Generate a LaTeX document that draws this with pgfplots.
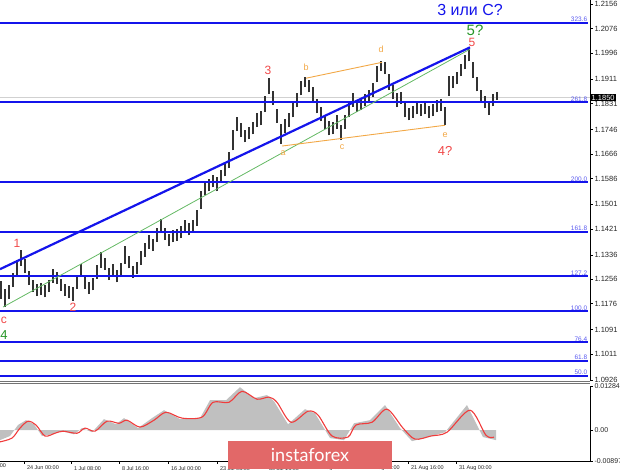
\documentclass[border=0pt]{standalone}
\usepackage{fontspec}
\setmainfont{Liberation Sans}
\newfontfamily\latofont{Lato}
\usepackage{pgfplots}
\pgfplotsset{compat=1.18}
\usepackage{pgfplotstable}
\definecolor{fibblue}{RGB}{20,20,235}
\definecolor{fibtxt}{RGB}{90,90,240}
\definecolor{wred}{RGB}{240,72,72}
\definecolor{wgreen}{RGB}{40,150,40}
\definecolor{worange}{RGB}{242,168,70}
\definecolor{lgreen}{RGB}{100,185,100}
\definecolor{barc}{RGB}{50,50,50}
\definecolor{logo}{RGB}{226,104,104}
\definecolor{histc}{RGB}{192,192,192}
\definecolor{sigred}{RGB}{240,60,60}
\tikzset{
  fiblab/.style={anchor=south east, inner sep=0.6pt, text=fibtxt, font=\fontsize{6.5}{7}\selectfont},
  fib/.style={fibblue, line width=2pt},
}

\pgfplotstableread{
x h l
1 1.1250 1.1192
5 1.1224 1.1166
9 1.1237 1.1191
13 1.1276 1.1230
17 1.1319 1.1267
21 1.1351 1.1299
25 1.1322 1.1276
29 1.1283 1.1237
33 1.1254 1.1214
37 1.1241 1.1201
41 1.1244 1.1204
45 1.1237 1.1197
49 1.1254 1.1214
53 1.1289 1.1243
57 1.1280 1.1240
61 1.1257 1.1217
65 1.1241 1.1201
69 1.1234 1.1194
73 1.1231 1.1185
77 1.1270 1.1224
81 1.1306 1.1266
85 1.1264 1.1224
89 1.1247 1.1207
93 1.1260 1.1220
97 1.1303 1.1257
101 1.1345 1.1293
105 1.1326 1.1286
109 1.1293 1.1253
113 1.1306 1.1266
117 1.1286 1.1246
121 1.1309 1.1263
125 1.1364 1.1306
129 1.1332 1.1292
133 1.1300 1.1260
137 1.1313 1.1273
141 1.1348 1.1302
145 1.1375 1.1329
149 1.1401 1.1355
153 1.1388 1.1348
157 1.1424 1.1378
161 1.1453 1.1407
165 1.1424 1.1384
169 1.1404 1.1364
173 1.1417 1.1377
177 1.1421 1.1381
181 1.1430 1.1390
185 1.1450 1.1410
189 1.1440 1.1400
193 1.1450 1.1410
197 1.1482 1.1430
201 1.1544 1.1486
205 1.1577 1.1531
209 1.1584 1.1544
213 1.1597 1.1557
217 1.1590 1.1544
221 1.1613 1.1573
225 1.1633 1.1593
229 1.1672 1.1620
233 1.1744 1.1678
237 1.1787 1.1741
241 1.1767 1.1721
245 1.1744 1.1704
249 1.1754 1.1714
253 1.1770 1.1730
257 1.1800 1.1754
261 1.1806 1.1760
265 1.1855 1.1803
269 1.1914 1.1862
273 1.1872 1.1826
277 1.1813 1.1767
281 1.1763 1.1698
285 1.1780 1.1734
289 1.1800 1.1754
293 1.1832 1.1786
297 1.1865 1.1819
301 1.1904 1.1858
305 1.1917 1.1885
309 1.1908 1.1868
313 1.1885 1.1839
317 1.1845 1.1799
321 1.1819 1.1773
325 1.1793 1.1747
329 1.1773 1.1727
333 1.1770 1.1730
337 1.1793 1.1747
341 1.1760 1.1711
345 1.1793 1.1747
349 1.1832 1.1786
353 1.1865 1.1819
357 1.1842 1.1802
361 1.1849 1.1809
365 1.1862 1.1822
369 1.1875 1.1835
373 1.1898 1.1852
377 1.1953 1.1901
381 1.1969 1.1937
385 1.1967 1.1927
389 1.1927 1.1875
393 1.1891 1.1845
397 1.1865 1.1819
401 1.1869 1.1829
405 1.1832 1.1786
409 1.1816 1.1776
413 1.1823 1.1783
417 1.1836 1.1796
421 1.1829 1.1789
425 1.1836 1.1796
429 1.1823 1.1783
433 1.1829 1.1789
437 1.1842 1.1802
441 1.1846 1.1806
445 1.1819 1.1761
449 1.1920 1.1856
453 1.1921 1.1881
457 1.1934 1.1894
461 1.1960 1.1920
465 1.1989 1.1943
469 1.2015 1.1969
473 1.1966 1.1914
477 1.1917 1.1871
481 1.1875 1.1835
485 1.1855 1.1815
489 1.1839 1.1793
493 1.1862 1.1822
497 1.1868 1.1842
}\bars

\pgfplotstableread{
x v
0 0
0 -0.0029
10 -0.0017
18 0.0015
26 0.0029
34 0.0017
42 -0.0017
52 -0.0012
62 -0.0003
74 -0.0012
82 0.0006
92 -0.0006
104 0.0032
116 0.0017
124 0.0035
138 0.0006
152 0.0035
164 0.0058
180 0.0032
200 0.0035
210 0.0087
226 0.0087
240 0.0125
254 0.0093
267 0.0102
274 0.0084
288 0.0017
305 0.0061
315 0.0049
330 -0.0023
344 -0.0029
354 0.0020
370 0.0029
385 0.0073
400 0.0006
412 -0.0032
428 -0.0020
445 -0.0006
467 0.0073
483 -0.0020
496 -0.0029
496 0
}\hist

\pgfplotstableread{
x v
0 -0.0034
12 -0.0023
20 0.0006
28 0.0026
36 0.0015
45 -0.0017
55 -0.0009
63 -0.0003
77 -0.0009
85 0.0006
95 -0.0003
107 0.0026
119 0.0020
127 0.0029
140 0.0009
154 0.0029
166 0.0052
182 0.0035
202 0.0038
213 0.0081
229 0.0081
242 0.0113
257 0.0090
269 0.0096
277 0.0081
291 0.0023
308 0.0055
318 0.0044
332 -0.0017
348 -0.0020
356 0.0015
372 0.0023
387 0.0061
403 0.0006
415 -0.0026
431 -0.0017
447 -0.0006
470 0.0058
486 -0.0015
494 -0.0020
}\sig

\begin{document}
\begin{tikzpicture}[x=1pt,y=1pt]
\useasboundingbox (0pt,0pt) rectangle (620pt,469pt);
% ---------------- main price panel ----------------
\begin{axis}[
  at={(0pt,88pt)}, anchor=south west,
  scale only axis, width=590pt, height=381pt,
  xmin=0, xmax=590, ymin=1.0923, ymax=1.2170,
  clip=false,
  axis x line*=bottom, axis y line*=right,
  x axis line style={black!55, line width=0.8pt},
  y axis line style={black, line width=0.6pt},
  xtick=\empty,
  scaled y ticks=false,
  ytick={1.2156,1.2076,1.1996,1.1911,1.1831,1.1746,1.1666,1.1586,1.1501,1.1421,1.1336,1.1256,1.1176,1.1091,1.1011,1.0926},
  yticklabels={1.2156,1.2076,1.1996,1.1911,1.1831,1.1746,1.1666,1.1586,1.1501,1.1421,1.1336,1.1256,1.1176,1.1091,1.1011,1.0926},
  tick align=outside, major tick length=2.5pt,
  tick style={black, line width=0.5pt},
  yticklabel style={font=\fontsize{7.5}{8}\selectfont, anchor=west, xshift=-1.5pt, text=black!85},
]
% current price line
\addplot[black!18, line width=0.8pt] coordinates {(0,1.1850) (590,1.1850)};
% price bars
\addplot[draw=none, mark=none,
  error bars/.cd, y dir=plus, y explicit, error mark=none,
  error bar style={draw=barc, line width=1.3pt}]
  table[x=x, y=l, y error expr=\thisrow{h}-\thisrow{l}] {\bars};
% fibonacci levels
\addplot[fib] coordinates {(0,1.2096) (588,1.2096)};
\addplot[fib] coordinates {(0,1.1835) (588,1.1835)};
\addplot[fib] coordinates {(0,1.1573) (588,1.1573)};
\addplot[fib] coordinates {(0,1.1412) (588,1.1412)};
\addplot[fib] coordinates {(0,1.1266) (588,1.1266)};
\addplot[fib] coordinates {(0,1.1152) (588,1.1152)};
\addplot[fib] coordinates {(0,1.1051) (588,1.1051)};
\addplot[fib] coordinates {(0,1.0990) (588,1.0990)};
\addplot[fib] coordinates {(0,1.0941) (588,1.0941)};
% trend lines
\addplot[lgreen, line width=0.8pt] coordinates {(3,1.1165) (470,1.2009)};
\addplot[fibblue, line width=2.2pt] coordinates {(0,1.1289) (470,1.2015)};
\addplot[worange, line width=0.9pt] coordinates {(306,1.1914) (382,1.1966)};
\addplot[worange, line width=0.9pt] coordinates {(282,1.1692) (445,1.1760)};
% fib labels
\node[fiblab] at (axis cs:588,1.2096) {323.6};
\node[fiblab] at (axis cs:588,1.1835) {261.8};
\node[fiblab] at (axis cs:588,1.1573) {200.0};
\node[fiblab] at (axis cs:588,1.1412) {161.8};
\node[fiblab] at (axis cs:588,1.1266) {127.2};
\node[fiblab] at (axis cs:588,1.1152) {100.0};
\node[fiblab] at (axis cs:588,1.1051) {76.4};
\node[fiblab] at (axis cs:588,1.0990) {61.8};
\node[fiblab] at (axis cs:588,1.0941) {50.0};
% wave labels
\node[text=fibblue, font=\fontsize{16}{18}\selectfont] at (axis cs:470,1.2136) {3 или С?};
\node[text=wgreen, font=\fontsize{15}{16}\selectfont] at (axis cs:475,1.2071) {5?};
\node[text=wred, font=\fontsize{12}{13}\selectfont] at (axis cs:472,1.2030) {5};
\node[text=worange, font=\fontsize{9}{10}\selectfont] at (axis cs:381,1.2009) {d};
\node[text=worange, font=\fontsize{9}{10}\selectfont] at (axis cs:306,1.1950) {b};
\node[text=wred, font=\fontsize{12}{13}\selectfont] at (axis cs:268,1.1940) {3};
\node[text=worange, font=\fontsize{9}{10}\selectfont] at (axis cs:283,1.1669) {a};
\node[text=worange, font=\fontsize{9}{10}\selectfont] at (axis cs:342,1.1688) {c};
\node[text=worange, font=\fontsize{9}{10}\selectfont] at (axis cs:445,1.1728) {e};
\node[text=wred, font=\fontsize{13}{14}\selectfont] at (axis cs:445,1.1675) {4?};
\node[text=wred, font=\fontsize{12}{13}\selectfont] at (axis cs:17,1.1374) {1};
\node[text=wred, font=\fontsize{12}{13}\selectfont] at (axis cs:73,1.1165) {2};
\node[text=wred, font=\fontsize{12}{13}\selectfont] at (axis cs:4,1.1123) {c};
\node[text=wgreen, font=\fontsize{13}{14}\selectfont] at (axis cs:4,1.1074) {4};
% current price box
\node[anchor=west, fill=black, text=white, inner sep=1pt, font=\fontsize{7.5}{8}\selectfont] at (axis cs:590.5,1.1850) {1.1850};
\end{axis}
% separator (second line)
\draw[black!55, line width=0.8pt] (0pt,85.3pt) -- (590pt,85.3pt);
% ---------------- indicator panel ----------------
\begin{axis}[
  at={(0pt,8pt)}, anchor=south west,
  scale only axis, width=590pt, height=75pt,
  xmin=0, xmax=590, ymin=-0.00897, ymax=0.01284,
  clip=false,
  axis x line*=bottom, axis y line*=right,
  axis line style={black, line width=0.6pt},
  scaled y ticks=false,
  ytick={-0.00897,0,0.01284},
  yticklabels={-0.00897,0.00,0.01284},
  xtick={24,71,119,168,217,266,315,364,408,456},
  xticklabels={24 Jun 00:00,1 Jul 08:00,8 Jul 16:00,16 Jul 00:00,23 Jul 08:00,30 Jul 16:00,7 Aug 00:00,14 Aug 08:00,21 Aug 16:00,31 Aug 00:00},
  tick align=outside, major tick length=2.5pt,
  tick style={black, line width=0.5pt},
  yticklabel style={font=\fontsize{7}{8}\selectfont, anchor=west, xshift=-1.5pt, text=black!85},
  xticklabel style={font=\fontsize{5.5}{6}\selectfont, anchor=north west, xshift=-0.5pt, yshift=1pt, text=black!85},
]
\addplot[fill=histc, draw=none] table[x=x, y=v] {\hist} -- cycle;
\addplot[sigred, line width=1.1pt, smooth] table[x=x, y=v] {\sig};
\node[anchor=north west, font=\fontsize{5.5}{6}\selectfont, text=black!85, inner sep=0pt] at (axis cs:-26,-0.0097) {16 Jun 16:00};
\end{axis}
% logo
\fill[logo] (228pt,0pt) rectangle (392pt,28pt);
\node[text=white, font=\latofont\fontsize{18}{20}\selectfont] at (310pt,14pt) {instaforex};
\end{tikzpicture}
\end{document}
